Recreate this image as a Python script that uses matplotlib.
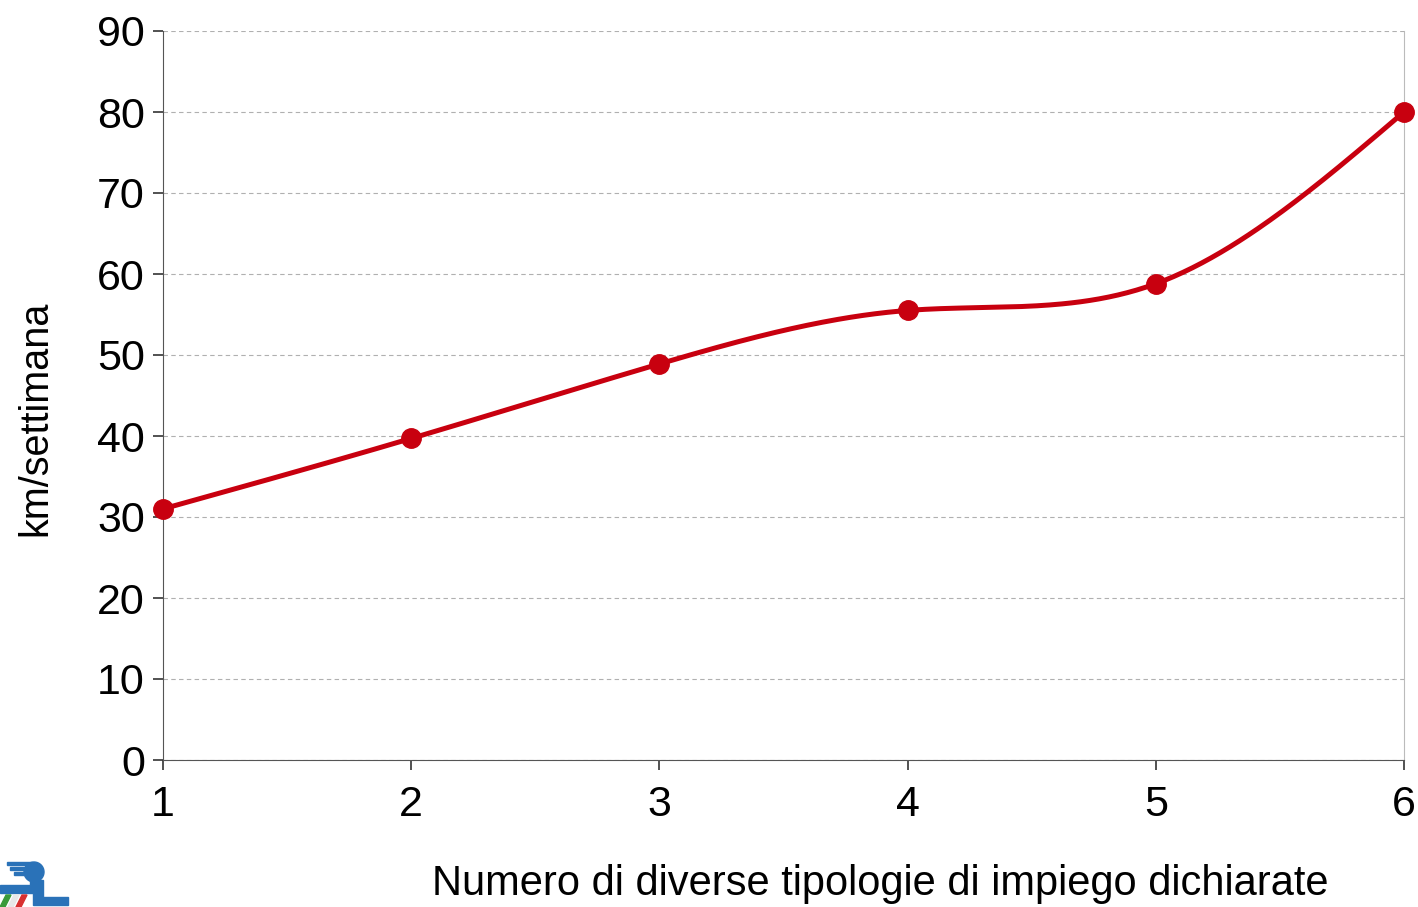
import numpy as np
import matplotlib
matplotlib.use("Agg")
import matplotlib.pyplot as plt
from matplotlib.patches import Circle, Polygon

plt.rcParams['font.family'] = ['Liberation Sans', 'DejaVu Sans']

x_vals = [1, 2, 3, 4, 5, 6]
y_vals = [31.0, 39.7, 48.9, 55.5, 58.8, 80.0]
y_ticks = [0, 10, 20, 30, 40, 50, 60, 70, 80, 90]
x_label = "Numero di diverse tipologie di impiego dichiarate"
y_label = "km/settimana"
line_color = "#C8000F"


def natural_spline(x, y, n=400):
    x = np.asarray(x, float)
    y = np.asarray(y, float)
    k = len(x)
    h = np.diff(x)
    A = np.zeros((k, k))
    b = np.zeros(k)
    A[0, 0] = 1
    A[-1, -1] = 1
    for i in range(1, k - 1):
        A[i, i - 1] = h[i - 1]
        A[i, i] = 2 * (h[i - 1] + h[i])
        A[i, i + 1] = h[i]
        b[i] = 3 * ((y[i + 1] - y[i]) / h[i] - (y[i] - y[i - 1]) / h[i - 1])
    c = np.linalg.solve(A, b)
    xs = np.linspace(x[0], x[-1], n)
    ys = np.empty_like(xs)
    for j, xv in enumerate(xs):
        i = min(np.searchsorted(x, xv, side='right') - 1, k - 2)
        dx = xv - x[i]
        bb = (y[i + 1] - y[i]) / h[i] - h[i] * (2 * c[i] + c[i + 1]) / 3
        d = (c[i + 1] - c[i]) / (3 * h[i])
        ys[j] = y[i] + bb * dx + c[i] * dx ** 2 + d * dx ** 3
    return xs, ys


fig = plt.figure(figsize=(14.18, 9.07), dpi=100)
ax = fig.add_axes([163 / 1418, 1 - 760 / 907, (1404 - 163) / 1418, (760 - 31) / 907])

xs, ys = natural_spline(x_vals, y_vals)
ax.plot(xs, ys, color=line_color, lw=3.6, clip_on=False, zorder=3, solid_capstyle='round')
ax.plot(x_vals, y_vals, 'o', color=line_color, ms=14, clip_on=False, zorder=4)

ax.set_xlim(1, 6)
ax.set_ylim(0, 90)
ax.set_yticks(y_ticks)
ax.set_xticks(x_vals)
ax.yaxis.grid(True, linestyle=(0, (4, 3)), color='#b0b0b0', lw=0.8)
ax.set_axisbelow(True)
ax.spines['top'].set_visible(False)
ax.spines['right'].set_color('#bbbbbb')
ax.spines['left'].set_color('#555555')
ax.spines['bottom'].set_color('#555555')
ax.tick_params(axis='both', direction='out', length=7, width=1.2, color='#333333',
               labelsize=31)
ax.tick_params(axis='y', pad=6)
ax.tick_params(axis='x', pad=11)

fig.text(880 / 1418, 1 - 884 / 907, x_label, ha='center', va='center', fontsize=30)
fig.text(35 / 1418, 1 - 418 / 907, y_label, ha='center', va='center', fontsize=28.5, rotation=90)

# small logo bottom-left
lax = fig.add_axes([0, 0, 70 / 1418, 50 / 907])
lax.set_xlim(0, 70)
lax.set_ylim(0, 50)
lax.axis('off')
blue = '#2a72b8'
lax.add_patch(Circle((34, 35), 10, color=blue))
for yy, x0 in [(44, 7), (39, 10), (34, 14)]:
    lax.add_patch(Polygon([[x0, yy + 1.5], [32, yy + 1.5], [32, yy - 1.5], [x0, yy - 1.5]], color=blue))
lax.add_patch(Polygon([[30, 27], [43, 27], [43, 10], [68, 10], [68, 2], [33, 2], [33, 14],
                       [0, 14], [0, 22], [30, 22]], color=blue))
lax.add_patch(Polygon([[0, 0], [5, 0], [11, 12], [6, 12]], color='#3a9a3a'))
lax.add_patch(Polygon([[8, 0], [13, 0], [19, 12], [14, 12]], color='#e8e8e8'))
lax.add_patch(Polygon([[16, 0], [21, 0], [27, 12], [22, 12]], color='#d83030'))

fig.savefig("out.png", dpi=100)
